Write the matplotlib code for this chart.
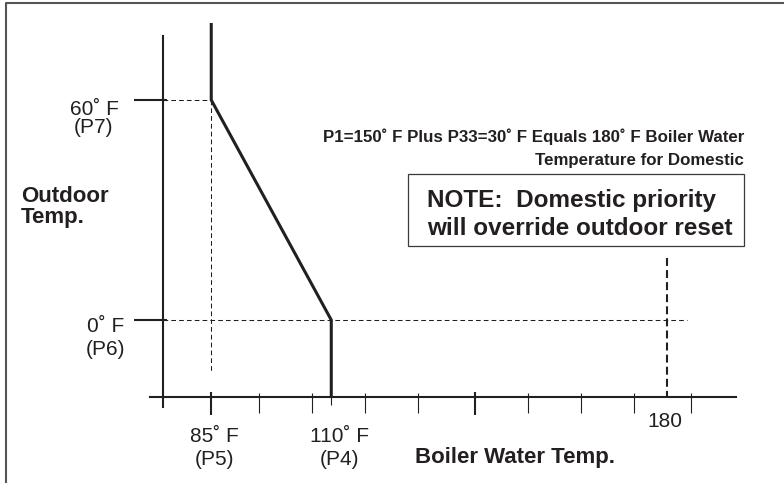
import matplotlib.pyplot as plt
from matplotlib.lines import Line2D
from matplotlib.patches import Rectangle

plt.rcParams['font.family'] = ['Liberation Sans', 'DejaVu Sans']

ink = '#231f20'

# reset curve: boiler water temp (F) against outdoor temp (F)
curve_water = [85, 85, 110, 110]
curve_outdoor = [81, 60, 0, -21]

# set points
p5_water = 85      # water temp at P7 outdoor
p4_water = 110     # water temp at P6 outdoor
p7_outdoor = 60
p6_outdoor = 0
domestic_water = 180
domestic_top = 17
dash_end = 184

# axis ticks
x_major = [85, 140]
x_minor = [95, 106, 117, 128, 151, 162, 173, 185]
x_p4 = [110]
y_ticks = [60, 0]

axis_x = 75    # water temp where the outdoor axis sits
axis_y = -21   # outdoor temp where the water axis sits

W, H = 784, 483
fig = plt.figure(figsize=(W / 100, H / 100), dpi=100)
ax = fig.add_axes([0, 0, 1, 1])
xlim = (41.0, 204.3)
ylim = (-44.45, 87.27)
ax.set_xlim(*xlim)
ax.set_ylim(*ylim)

ax.spines['top'].set_visible(False)
ax.spines['right'].set_visible(False)
ax.spines['left'].set_position(('data', axis_x))
ax.spines['left'].set_bounds(-23.7, 77.5)
ax.spines['bottom'].set_position(('data', axis_y))
ax.spines['bottom'].set_bounds(72.3, 194.3)
for s in ('left', 'bottom'):
    ax.spines[s].set_linewidth(1.5)
    ax.spines[s].set_color(ink)

ax.set_xticks(x_major)
ax.set_xticks(x_minor, minor=True)
ax.set_yticks(y_ticks)
ax.tick_params(axis='x', which='major', direction='out', length=13, width=1.5,
               color=ink, labelbottom=False)
ax.tick_params(axis='x', which='minor', direction='out', length=11.5, width=0.8,
               color=ink)
ax.tick_params(axis='y', direction='out', length=21, width=1.5, color=ink,
               labelleft=False)

# short upward stubs of the water-temp ticks
fx_loc = (axis_y - ylim[0]) / (ylim[1] - ylim[0])
up = ax.secondary_xaxis(fx_loc)
up.set_xticks(x_major)
up.set_xticks(x_minor, minor=True)
up.tick_params(which='major', direction='in', length=3.6, width=1.5, color=ink,
               labelbottom=False, labeltop=False)
up.tick_params(which='minor', direction='in', length=3, width=0.8, color=ink)
for s in up.spines.values():
    s.set_visible(False)

p4 = ax.secondary_xaxis(fx_loc)
p4.set_xticks(x_p4)
p4.tick_params(direction='out', length=6, width=0.8, color=ink,
               labelbottom=False, labeltop=False)
for s in p4.spines.values():
    s.set_visible(False)

# short right-hand stubs of the outdoor ticks
fy_loc = (axis_x - xlim[0]) / (xlim[1] - xlim[0])
right = ax.secondary_yaxis(fy_loc)
right.set_yticks(y_ticks)
right.tick_params(direction='in', length=3, width=1.5, color=ink,
                  labelleft=False, labelright=False)
for s in right.spines.values():
    s.set_visible(False)

# guide lines
thin = dict(color=ink, lw=0.75, ls=(0, (4.5, 3)))
ax.plot([axis_x, p5_water], [p7_outdoor, p7_outdoor], **thin)
ax.plot([p5_water, p5_water], [p7_outdoor, -14], **thin)
ax.plot([axis_x, dash_end], [p6_outdoor, p6_outdoor], **thin)
ax.plot([domestic_water, domestic_water], [domestic_top, axis_y], color=ink,
        lw=1.5, ls=(0, (3.8, 2)))

# reset curve
ax.plot(curve_water, curve_outdoor, color=ink, lw=2.2,
        solid_joinstyle='miter', solid_capstyle='butt')

# tick labels
lab = dict(fontsize=15, color=ink, ha='center', va='baseline',
           textcoords='offset pixels')
ax.annotate('60˚ F', xy=(axis_x, p7_outdoor), xytext=(-69, -15), **lab)
ax.annotate('(P7)', xy=(axis_x, p7_outdoor), xytext=(-70, -33), **lab)
ax.annotate('0˚ F', xy=(axis_x, p6_outdoor), xytext=(-58, -12), **lab)
ax.annotate('(P6)', xy=(axis_x, p6_outdoor), xytext=(-58, -35), **lab)
ax.annotate('85˚ F', xy=(p5_water, axis_y), xytext=(3, -45), **lab)
ax.annotate('(P5)', xy=(p5_water, axis_y), xytext=(3, -68), **lab)
ax.annotate('110˚ F', xy=(p4_water, axis_y), xytext=(8, -45), **lab)
ax.annotate('(P4)', xy=(p4_water, axis_y), xytext=(8, -68), **lab)
ax.annotate('180', xy=(domestic_water, axis_y), xytext=(-2, -30), **lab)


def fx(px):
    return px / W


def fy(py):
    return 1 - py / H


bold = dict(fontsize=16, fontweight='bold', color=ink, va='baseline')
fig.text(fx(21), fy(202), 'Outdoor', **bold)
fig.text(fx(21), fy(223), 'Temp.', **bold)
fig.text(fx(415), fy(463), 'Boiler Water Temp.', **bold)

small = dict(fontsize=12.2, fontweight='bold', color=ink, va='baseline', ha='right')
fig.text(fx(744), fy(142), 'P1=150˚ F Plus P33=30˚ F Equals 180˚ F Boiler Water', **small)
fig.text(fx(744), fy(165), 'Temperature for Domestic', **small)

fig.add_artist(Rectangle((fx(408), fy(246)), fx(744) - fx(408), fy(174) - fy(246),
                         transform=fig.transFigure, fill=False, ec='#3a3a3a', lw=0.9))
note = dict(fontsize=17.5, fontweight='bold', color=ink, va='baseline')
fig.text(fx(427), fy(207), 'NOTE:  Domestic priority', **note)
fig.text(fx(427), fy(235), 'will override outdoor reset', **note)

# page frame
fig.add_artist(Line2D([fx(5.5), fx(5.5), 1], [0, fy(2.5), fy(2.5)],
                      transform=fig.transFigure, color='#555555', lw=1.5))

fig.savefig('out.png', dpi=100)
